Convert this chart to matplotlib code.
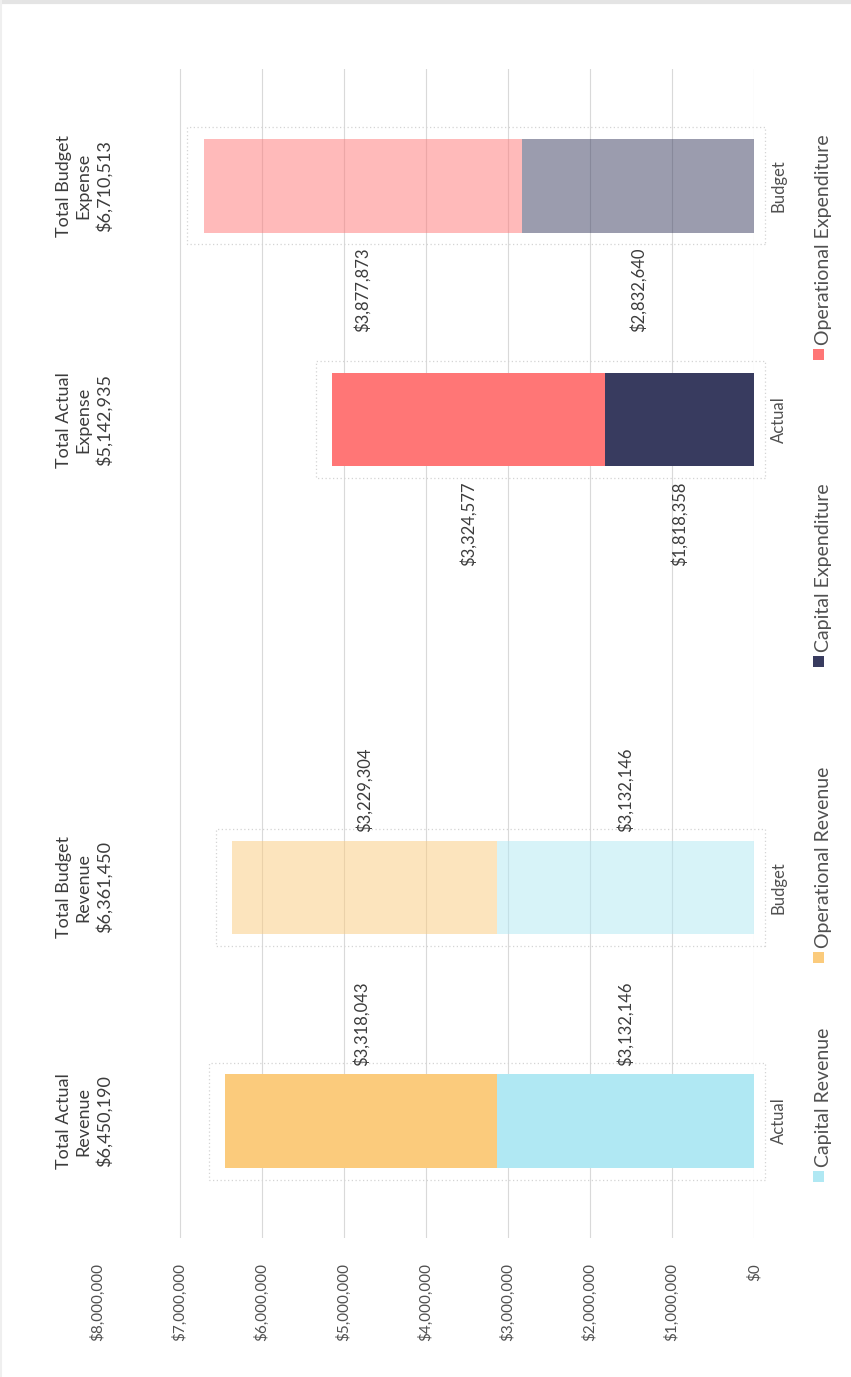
import matplotlib
matplotlib.use("Agg")
import matplotlib.pyplot as plt
from matplotlib.patches import Rectangle
from matplotlib.lines import Line2D
from matplotlib.ticker import FuncFormatter

plt.rcParams['font.family'] = ['Lato', 'DejaVu Sans']

# data
groups = ["Revenue", "Expense"]
scenarios = ["Actual", "Budget"]
capital = [3132146, 3132146, 1818358, 2832640]
operational = [3318043, 3229304, 3324577, 3877873]
totals = [6450190, 6361450, 5142935, 6710513]
capital_names = ["Capital Revenue", "Capital Expenditure"]
operational_names = ["Operational Revenue", "Operational Expenditure"]
capital_colors = ["#B0E8F3", "#383B5F"]
operational_colors = ["#FBCB7C", "#FF7676"]
value_ticks = [0, 1000000, 2000000, 3000000, 4000000, 5000000, 6000000, 7000000, 8000000]

W, H = 851, 1377
fig = plt.figure(figsize=(W / 100, H / 100), dpi=100)
ax = fig.add_axes([98 / W, 1 - 1238 / H, (754 - 98) / W, (1238 - 69) / H])

text_col = "#505050"
label_col = "#3c3c3c"

pos, tick_names = [], []
i = 0
for g, grp in enumerate(groups):
    for k, sc in enumerate(scenarios):
        y = g * 3 + k
        pos.append(y)
        tick_names.append(sc)
        alpha = 1.0 if sc == "Actual" else 0.5
        cap, op = capital[i], operational[i]
        ax.barh(y, cap, height=0.4, color=capital_colors[g], alpha=alpha, lw=0, zorder=2)
        ax.barh(y, op, left=cap, height=0.4, color=operational_colors[g], alpha=alpha, lw=0, zorder=2)

        # dotted selection-like outline around each bar
        ax.add_patch(Rectangle((-0.13e6, y - 0.25), totals[i] + 0.33e6, 0.5, fill=False,
                               ec="#d4d4d4", ls=(0, (1, 2)), lw=0.9, clip_on=False, zorder=1))

        # segment value labels
        for v, mid in [(cap, cap / 2), (op, cap + op / 2)]:
            if grp == "Revenue":
                ax.annotate(f"${v:,}", xy=(mid, y + 0.2), xytext=(0, 6), textcoords="offset points",
                            rotation=90, ha="center", va="bottom", fontsize=12, color=label_col)
            else:
                ax.annotate(f"${v:,}", xy=(mid, y - 0.2), xytext=(0, -11), textcoords="offset points",
                            rotation=90, ha="center", va="top", fontsize=12, color=label_col)

        # totals above each column
        ax.annotate(f"Total {sc}\n{grp}\n${totals[i]:,}", xy=(8e6, y), xytext=(-10, 0),
                    textcoords="offset points", rotation=90, ha="center", va="center",
                    multialignment="center", fontsize=13, color=label_col,
                    annotation_clip=False, linespacing=1.3)
        i += 1

ax.set_xlim(8e6, 0)
ax.set_ylim(-0.5, 4.5)
ax.set_xticks(value_ticks)
ax.xaxis.set_major_formatter(FuncFormatter(lambda v, p: f"${v:,.0f}"))
ax.tick_params(axis="x", length=0, pad=18, labelsize=11, labelcolor=text_col, labelrotation=90)
ax.grid(axis="x", color="#d9d9d9", lw=0.8, zorder=0)
ax.xaxis.get_gridlines()[-1].set_visible(False)
ax.set_axisbelow(True)

ax.yaxis.tick_right()
ax.set_yticks(pos)
ax.set_yticklabels(tick_names, rotation=90, va="center")
ax.tick_params(axis="y", length=0, pad=12, labelsize=12, labelcolor=text_col)

for s in ax.spines.values():
    s.set_visible(False)

# faint screenshot border
fig.add_artist(Line2D([0, 1], [1 - 2 / H, 1 - 2 / H], color="#e4e4e4", lw=3))
fig.add_artist(Line2D([1 / W, 1 / W], [0, 1], color="#efefef", lw=1.5))

# legend, drawn by hand so it can be rotated
entries = [(capital_names[0], capital_colors[0]), (operational_names[0], operational_colors[0]),
           (capital_names[1], capital_colors[1]), (operational_names[1], operational_colors[1])]
legend_rows = [1177, 958, 662, 355]
for (name, col), row in zip(entries, legend_rows):
    ypix = H - row
    fig.add_artist(Rectangle((813 / W, (ypix - 5) / H), 11 / W, 11 / H, transform=fig.transFigure,
                             color=col, lw=0))
    fig.text(823 / W, (ypix + 10) / H, name, rotation=90, ha="center", va="bottom",
             fontsize=14, color=text_col)

fig.savefig("out.png", dpi=100, facecolor="white")
